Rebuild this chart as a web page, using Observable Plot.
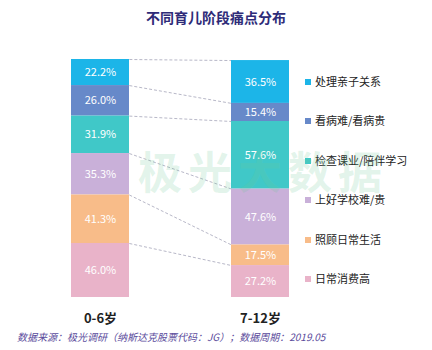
<!DOCTYPE html>
<html><head><meta charset="utf-8">
<script src="https://cdn.jsdelivr.net/npm/d3@7"></script>
<script src="https://cdn.jsdelivr.net/npm/@observablehq/plot@0.6"></script>
<style>
html,body{margin:0;padding:0;background:#fff;}
#wrap{position:relative;width:432px;height:350px;overflow:hidden;font-family:"Noto Sans CJK SC",sans-serif;background:#fff;}
#title{height:40px;line-height:34px;text-align:center;font-size:14px;font-weight:bold;color:#2e2b78;}
#chart svg{display:block;}
#caption{position:absolute;left:17px;top:330px;line-height:14px;font-size:10px;font-style:italic;color:#5b4c9c;white-space:nowrap;}
.lg{position:absolute;left:305px;height:16px;line-height:16px;font-size:11px;color:#222;white-space:nowrap;}
.lg i{display:inline-block;width:6px;height:6px;margin-right:4px;vertical-align:middle;position:relative;top:-1px;}
#wm{position:absolute;left:138px;top:138px;font-size:44px;font-weight:bold;letter-spacing:6px;color:rgba(110,200,150,0.2);pointer-events:none;white-space:nowrap;}
</style>
</head><body>
<div id="wrap">
  <div id="title">不同育儿阶段痛点分布</div>
  <div id="chart"></div>
  <div id="legend"></div>
  <div id="wm">极光大数据</div>
  <div id="caption">数据来源：极光调研（纳斯达克股票代码：JG）；数据周期：2019.05</div>
</div>
<script>
const categories = ["0-6岁", "7-12岁"];
const series = ["处理亲子关系", "看病难/看病贵", "检查课业/陪伴学习", "上好学校难/贵", "照顾日常生活", "日常消费高"];
const age0to6 = [22.2, 26.0, 31.9, 35.3, 41.3, 46.0];
const age7to12 = [36.5, 15.4, 57.6, 47.6, 17.5, 27.2];
const colors = ["#1cb5e8", "#6789c9", "#40c8c8", "#c9b0d9", "#f8bc89", "#e9b3c9"];

const data = series.flatMap((s, i) => [
  {cat: categories[0], series: s, value: age0to6[i]},
  {cat: categories[1], series: s, value: age7to12[i]}
]);
const stackOrder = series.slice().reverse();
const tops = arr => series.map((_, i) => d3.sum(arr.slice(i)));
const topsL = tops(age0to6), topsR = tops(age7to12);
const links = series.map((s, i) => ({series: s, y1: topsL[i], y2: topsR[i]}));
const ymax = Math.max(d3.sum(age0to6), d3.sum(age7to12));

const xOpts = {type: "band", domain: categories, range: [20, 340], paddingInner: 0.64, paddingOuter: 0.318};
const half = Plot.scale({x: xOpts}).bandwidth / 2;
const edgeCurve = ctx => {
  let pts = [];
  return {
    areaStart() {}, areaEnd() {},
    lineStart() { pts = []; },
    point(x, y) { pts.push([+x, +y]); },
    lineEnd() {
      if (pts.length >= 2) {
        ctx.moveTo(pts[0][0] + half, pts[0][1]);
        ctx.lineTo(pts[1][0] - half, pts[1][1]);
      }
    }
  };
};

const chart = Plot.plot({
  width: 432, height: 290,
  marginTop: 19, marginBottom: 33, marginLeft: 20, marginRight: 92,
  style: {fontFamily: "'Noto Sans CJK SC', sans-serif", background: "transparent"},
  x: {...xOpts, axis: null},
  y: {domain: [0, ymax], axis: null},
  color: {domain: series, range: colors},
  marks: [
    Plot.link(links, {x1: () => categories[0], x2: () => categories[1], y1: "y1", y2: "y2",
      stroke: "#b8b8c8", strokeWidth: 1, strokeDasharray: "3,2", curve: edgeCurve}),
    Plot.barY(data, {x: "cat", y: "value", z: "series", fill: "series", order: stackOrder}),
    Plot.text(data, Plot.stackY({x: "cat", y: "value", z: "series", order: stackOrder,
      text: d => d.value.toFixed(1) + "%", fill: "white", fontSize: 11})),
    Plot.ruleY([0], {stroke: "#e2e2ea", x1: 20, x2: 340}),
    Plot.text(categories, {x: d => d, y: 0, dy: 21, text: d => d, fontSize: 13, fontWeight: "bold", fill: "#222"})
  ]
});
document.getElementById("chart").appendChild(chart);

const legend = document.getElementById("legend");
series.forEach((s, i) => {
  const el = document.createElement("div");
  el.className = "lg";
  el.style.top = (81 + i * 39.4 - 8) + "px";
  el.innerHTML = `<i style="background:${colors[i]}"></i>${s}`;
  legend.appendChild(el);
});
</script>
</body></html>
